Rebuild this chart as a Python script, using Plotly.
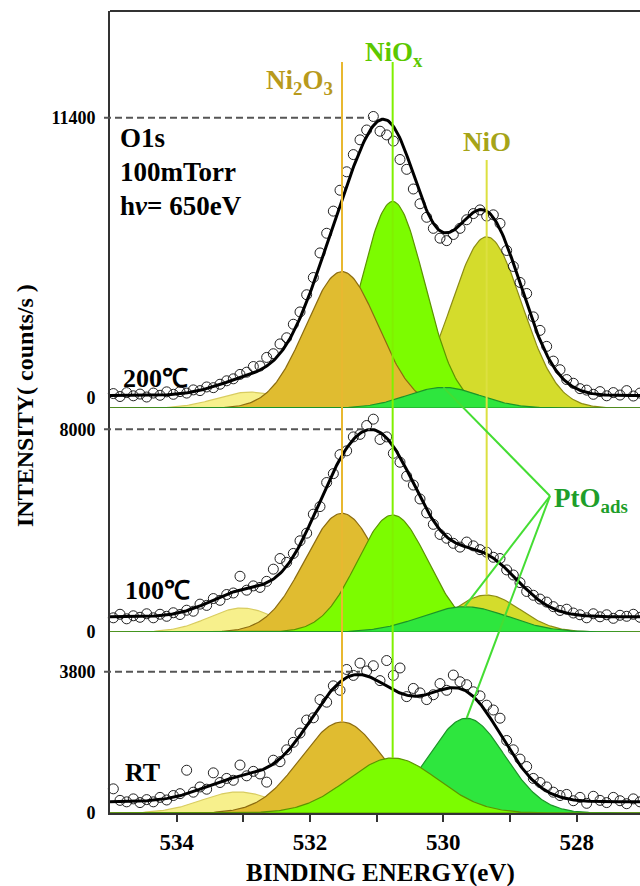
import numpy as np
import plotly.graph_objects as go

# ---------------- data ----------------
panel_labels = ["200℃", "100℃", "RT"]
y_max_ticks = [11400, 8000, 3800]
peak_x = [531.1, 531.1, 531.25]          # energy of the highest point (dashed marker)
fill_base = [-410, 0, 0]                  # level the fitted components start from
background = [510, 600, 304]              # constant background under the envelope

comp_names = ["low", "Ni2O3", "NiOx", "NiO", "PtO"]
top_centre = [532.9, 531.52, 530.76, 529.35, 530.0]
top_height = [650, 5550, 8400, 6967, 842]
top_sigma = [0.5, 0.54, 0.48, 0.53, 0.55]
mid_centre = [533.02, 531.52, 530.76, 529.35, 529.68]
mid_height = [947, 4685, 4618, 1460, 999]
mid_sigma = [0.5, 0.56, 0.53, 0.5, 0.65]
bot_centre = [533.08, 531.52, 530.76, 529.35, 529.65]
bot_height = [565, 2448, 1480, 0, 2550]
bot_sigma = [0.55, 0.62, 0.68, 0.5, 0.57]

energy = np.round(np.arange(534.95, 527.0, -0.1), 2)   # measured binding energies

top_counts = [180, 60, 220, 90, 160, 40, 200, 110, 250, 150,
              260, 200, 330, 300, 450, 420, 560, 700, 780, 960,
              1050, 1280, 1300, 1650, 1800, 2200, 2450, 3000, 3500, 4200,
              4900, 5900, 6700, 7600, 8450, 9200, 9900, 10500, 10900, 11450,
              10850, 10700, 10450, 9700, 9300, 8500, 7900, 7350, 6900, 6500,
              6400, 6650, 6900, 7250, 7500, 7650, 7400, 7450, 7100, 6000,
              5350, 4700, 4250, 3300, 2750, 2100, 1500, 1150, 750, 600,
              380, 320, 150, 260, 90, 220, 120, 300, 80, 200]
mid_counts = [560, 700, 520, 640, 580, 720, 560, 700, 620, 760,
              690, 860, 820, 1100, 1050, 1320, 1250, 1480, 1540, 2200,
              1650, 1820, 1760, 2000, 2480, 2900, 2750, 3100, 3600, 3900,
              4650, 4950, 5900, 6250, 7000, 7150, 7700, 7800, 8150, 8400,
              7600, 7700, 7050, 6700, 6150, 5800, 5250, 4700, 4250, 3850,
              3700, 3500, 3350, 3550, 3400, 3250, 3150, 2950, 2900, 2450,
              2250, 1950, 1600, 1450, 1300, 1180, 1000, 850, 900, 750,
              680, 560, 720, 600, 680, 540, 660, 620, 700, 580]
bot_counts = [650, 340, 300, 380, 280, 360, 300, 420, 350, 470,
              520, 1150, 560, 700, 640, 1080, 820, 930, 880, 1290,
              1000, 1120, 1050, 830, 1420, 1380, 1700, 1900, 2150, 2500,
              2560, 3050, 2980, 3420, 3300, 3860, 3700, 4030, 3820, 3960,
              3560, 4100, 3700, 3900, 3130, 3350, 3230, 3050, 3180, 3480,
              3300, 3710, 3530, 3450, 3260, 3150, 2900, 2770, 2550, 1950,
              1700, 1450, 1250, 930, 820, 700, 560, 470, 500, 330,
              420, 260, 450, 340, 280, 420, 330, 250, 380, 300]

x_major = [534, 532, 530, 528]
x_minor = [533, 531, 529]

# ---------------- styling ----------------
comp_fill = ["#f7f08c", "#e0bc30", "#7cfc00", "#d4dc2c", "#2ee63e"]
comp_edge = ["#d8cc60", "#8c6c10", "#5c9400", "#8c8c14", "#1c9428"]
draw_order = [[0, 3, 2, 1, 4], [0, 1, 2, 3, 4], [0, 1, 4, 2]]
FONT = "Liberation Serif"

W, H = 640, 886
ML, MT, MB = 110, 11, 73
PW, PH = W - ML, H - MT - MB
XR = (535.0, 527.05)


def py2paper(py):
    return (H - MB - py) / PH


def px2paper(px):
    return (px - ML) / PW


def x2paper(x):
    return (XR[0] - x) / (XR[0] - XR[1])


# vertical layout of the three stacked panels (pixel rows)
dom_px = [(408, 11), (632, 408), (813, 632)]
zero_px = [398, 632, 813]
max_px = [117.7, 429.3, 671.7]
scales = [y_max_ticks[i] / (zero_px[i] - max_px[i]) for i in range(3)]
ranges = []
for i in range(3):
    lo = (zero_px[i] - dom_px[i][0]) * scales[i]
    hi = (zero_px[i] - dom_px[i][1]) * scales[i]
    ranges.append([lo, hi])


def v2paper(i, v):
    lo, hi = ranges[i]
    d0, d1 = py2paper(dom_px[i][0]), py2paper(dom_px[i][1])
    return d0 + (v - lo) / (hi - lo) * (d1 - d0)


def gauss(x, c, h, s):
    return h * np.exp(-0.5 * ((x - c) / s) ** 2)


comps = [(top_centre, top_height, top_sigma), (mid_centre, mid_height, mid_sigma),
         (bot_centre, bot_height, bot_sigma)]
xf = np.linspace(535.0, 527.0, 401)


def envelope(i, x):
    c, h, s = comps[i]
    tot = np.full_like(x, fill_base[i] + background[i], dtype=float)
    for cc, hh, ss in zip(c, h, s):
        if hh > 0:
            tot += gauss(x, cc, hh, ss)
    return tot


counts = [top_counts, mid_counts, bot_counts]

fig = go.Figure()
yrefs = ["y", "y2", "y3"]
for i in range(3):
    c, h, s = comps[i]
    for k in draw_order[i]:
        if h[k] <= 0:
            continue
        yy = fill_base[i] + gauss(xf, c[k], h[k], s[k])
        fig.add_trace(go.Scatter(
            x=np.concatenate([xf, [xf[-1], xf[0]]]),
            y=np.concatenate([yy, [fill_base[i], fill_base[i]]]),
            fill="toself", fillcolor=comp_fill[k], mode="lines",
            line=dict(color=comp_edge[k], width=1.2), yaxis=yrefs[i],
            hoverinfo="skip", showlegend=False))
    fig.add_trace(go.Scatter(
        x=energy, y=counts[i], mode="markers", yaxis=yrefs[i], cliponaxis=False,
        marker=dict(symbol="circle-open", size=10, color="#222", line=dict(width=1)),
        showlegend=False))
    fig.add_trace(go.Scatter(
        x=xf, y=envelope(i, xf), mode="lines", yaxis=yrefs[i],
        line=dict(color="black", width=3), showlegend=False))

shapes = []
# dashed maximum markers
for i in range(3):
    yp = v2paper(i, y_max_ticks[i])
    shapes.append(dict(type="line", xref="paper", yref="paper", x0=px2paper(104), x1=x2paper(peak_x[i]),
                       y0=yp, y1=yp, line=dict(color="#555", width=2, dash="7px,4px")))
# frame top
shapes.append(dict(type="line", xref="paper", yref="paper", x0=0, x1=1, y0=1, y1=1,
                   line=dict(color="#333", width=2)))
# component marker lines
line_top = py2paper(62)
shapes.append(dict(type="line", xref="paper", yref="paper", x0=x2paper(bot_centre[1]), x1=x2paper(bot_centre[1]),
                   y0=line_top, y1=v2paper(2, fill_base[2] + bot_height[1]),
                   line=dict(color="#e8b830", width=2)))
shapes.append(dict(type="line", xref="paper", yref="paper", x0=x2paper(bot_centre[2]), x1=x2paper(bot_centre[2]),
                   y0=line_top, y1=v2paper(2, fill_base[2] + bot_height[2]),
                   line=dict(color="#80f000", width=2)))
shapes.append(dict(type="line", xref="paper", yref="paper", x0=x2paper(mid_centre[3]), x1=x2paper(mid_centre[3]),
                   y0=py2paper(160), y1=v2paper(1, fill_base[1] + mid_height[3]),
                   line=dict(color="#dce040", width=2)))
pto_label = (px2paper(550), py2paper(496))
for i in range(3):
    c, h, s = comps[i]
    shapes.append(dict(type="line", xref="paper", yref="paper", x0=pto_label[0], y0=pto_label[1],
                       x1=x2paper(c[4]), y1=v2paper(i, fill_base[i] + h[4]),
                       line=dict(color="#44dd33", width=2)))

ann = []


def text(px, py, t, size, color="black", xanchor="left"):
    ann.append(dict(x=px2paper(px), y=py2paper(py), xref="paper", yref="paper", text=t,
                    showarrow=False, xanchor=xanchor, yanchor="middle",
                    font=dict(family=FONT, size=size, color=color, weight="bold")))


text(118, 138, "O1s", 27)
text(118, 172, "100mTorr", 27)
text(118, 206, "h<i>ν</i>= 650eV", 27)
text(121, 378, panel_labels[0], 26)
text(123, 590, panel_labels[1], 26)
text(123, 772, panel_labels[2], 26)
text(299, 82, "Ni<sub>2</sub>O<sub>3</sub>", 27, "#b89a1c", "center")
text(394, 54, "NiO<sub>x</sub>", 27, "#5cc800", "center")
text(487, 142, "NiO", 27, "#a6a418", "center")
text(552, 500, "PtO<sub>ads</sub>", 27, "#1e9e2a")
text(380, 873, "BINDING ENERGY(eV)", 25, "black", "center")
ann.append(dict(x=px2paper(25), y=py2paper(406), xref="paper", yref="paper",
                text="INTENSITY( counts/s )", textangle=-90, showarrow=False,
                xanchor="center", yanchor="middle",
                font=dict(family=FONT, size=24, color="black", weight="bold")))

yax_common = dict(showgrid=False, zeroline=False, showline=True, linecolor="#333", linewidth=2,
                  ticks="", ticklabelstandoff=9, anchor="x", automargin=False,
                  tickfont=dict(family=FONT, size=18, color="black", weight="bold"))
fig.update_layout(
    width=W, height=H, margin=dict(l=ML, r=0, t=MT, b=MB),
    paper_bgcolor="white", plot_bgcolor="white", showlegend=False,
    xaxis=dict(range=list(XR), anchor="y3", showgrid=False, zeroline=False, showline=True,
               linecolor="#333", linewidth=2, ticks="outside", ticklen=7, tickwidth=2, tickcolor="#333",
               tickvals=x_major, ticktext=[str(v) for v in x_major], automargin=False,
               minor=dict(tickvals=x_minor, ticks="outside", ticklen=7, tickwidth=2, tickcolor="#333",
                          showgrid=False),
               tickfont=dict(family=FONT, size=23, color="black", weight="bold")),
    yaxis=dict(domain=[py2paper(dom_px[0][0]), 1], range=ranges[0], tickvals=[0, y_max_ticks[0]],
               ticktext=["0", str(y_max_ticks[0])], **yax_common),
    yaxis2=dict(domain=[py2paper(dom_px[1][0]), py2paper(dom_px[1][1])], range=ranges[1],
                tickvals=[0, y_max_ticks[1]], ticktext=["0", str(y_max_ticks[1])], **yax_common),
    yaxis3=dict(domain=[0, py2paper(dom_px[2][1])], range=ranges[2], tickvals=[0, y_max_ticks[2]],
                ticktext=["0", str(y_max_ticks[2])], **yax_common),
    shapes=shapes, annotations=ann,
)
fig.write_html("out.html", config={"displayModeBar": False},
               post_script="document.body.style.margin='0';")
